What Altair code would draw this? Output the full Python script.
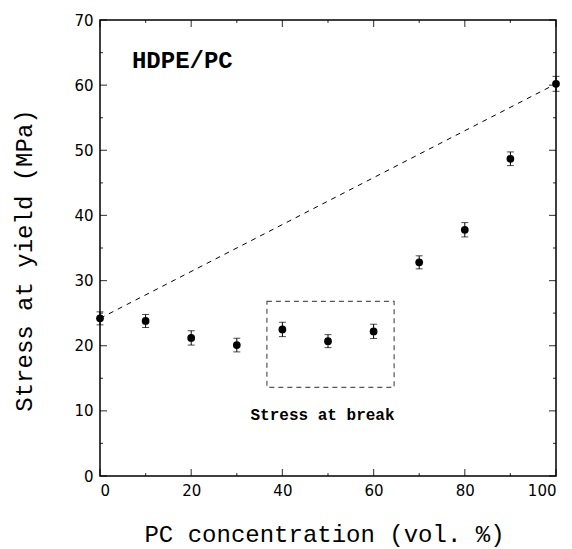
import altair as alt
import pandas as pd

# Data
pc_conc = [0, 10, 20, 30, 40, 50, 60, 70, 80, 90, 100]
stress_yield = [24.2, 23.8, 21.2, 20.1, 22.5, 20.7, 22.2, 32.8, 37.8, 48.7, 60.2]
stress_err = [1.0, 1.0, 1.1, 1.05, 1.1, 1.0, 1.1, 1.0, 1.1, 1.05, 1.15]

additivity_x = [0, 100]
additivity_y = [24.2, 60.2]

box_x = [36.6]
box_x2 = [64.5]
box_y = [13.6]
box_y2 = [26.8]

x_major = [0, 20, 40, 60, 80, 100]
x_minor = [10, 30, 50, 70, 90]
y_major = [0, 10, 20, 30, 40, 50, 60, 70]
y_minor = [5, 15, 25, 35, 45, 55, 65]

labels_text = ["HDPE/PC", "Stress at break"]

pts = pd.DataFrame({
    "x": pc_conc,
    "y": stress_yield,
    "lo": [v - e for v, e in zip(stress_yield, stress_err)],
    "hi": [v + e for v, e in zip(stress_yield, stress_err)],
})
line_df = pd.DataFrame({"x": additivity_x, "y": additivity_y})
box_df = pd.DataFrame({"x": box_x, "x2": box_x2, "y": box_y, "y2": box_y2})

xs = alt.Scale(domain=[0, 100], nice=False, zero=False)
ys = alt.Scale(domain=[0, 70], nice=False, zero=False)

x_axis = alt.Axis(values=x_major, title="PC concentration (vol. %)", grid=False,
                  ticks=False, domain=False, labelPadding=7, titlePadding=24,
                  labelFont="DejaVu Sans", labelFontSize=15, labelColor="black",
                  titleFont="Liberation Mono", titleFontSize=24, titleFontWeight="normal",
                  titleColor="black", titleX=224)
y_axis = alt.Axis(values=y_major, title="Stress at yield (MPa)", grid=False,
                  ticks=False, domain=False, labelPadding=7, titlePadding=37,
                  labelFont="DejaVu Sans", labelFontSize=15, labelColor="black",
                  titleFont="Liberation Mono", titleFontSize=24, titleFontWeight="normal",
                  titleColor="black", titleY=240)

X = lambda f: alt.X(f, scale=xs, title="PC concentration (vol. %)")
Y = lambda f: alt.Y(f, scale=ys, title="Stress at yield (MPa)")

base = alt.Chart(pts)

points = base.mark_circle(size=60, color="black", opacity=1).encode(
    x=alt.X("x:Q", scale=xs, axis=x_axis),
    y=alt.Y("y:Q", scale=ys, axis=y_axis),
)
bars = base.mark_rule(color="black", strokeWidth=1).encode(
    x=X("x:Q"), y=Y("lo:Q"), y2="hi:Q",
)
cap_lo = base.mark_tick(color="black", orient="horizontal", size=7, thickness=1).encode(
    x=X("x:Q"), y=Y("lo:Q"),
)
cap_hi = base.mark_tick(color="black", orient="horizontal", size=7, thickness=1).encode(
    x=X("x:Q"), y=Y("hi:Q"),
)

dashed = alt.Chart(line_df).mark_line(color="black", strokeWidth=1, strokeDash=[5, 5]).encode(
    x=X("x:Q"), y=Y("y:Q"),
)

box = alt.Chart(box_df).mark_rect(fill=None, fillOpacity=0, stroke="#555555",
                                  strokeWidth=1.2, strokeDash=[5, 4]).encode(
    x=X("x:Q"), x2="x2:Q", y=Y("y:Q"), y2="y2:Q",
)

txt1 = alt.Chart(pd.DataFrame({"x": [7.0], "y": [62.6], "t": [labels_text[0]]})).mark_text(
    font="Liberation Mono", fontSize=24, fontWeight="bold", align="left",
    baseline="alphabetic", color="black").encode(x=X("x:Q"), y=Y("y:Q"), text="t:N")
txt2 = alt.Chart(pd.DataFrame({"x": [48.8], "y": [8.6], "t": [labels_text[1]]})).mark_text(
    font="Liberation Mono", fontSize=16, fontWeight="bold", align="center",
    baseline="alphabetic", color="black").encode(x=X("x:Q"), y=Y("y:Q"), text="t:N")

# inward tick marks on all four sides
def xticks(vals, yv, size, off):
    df = pd.DataFrame({"x": vals, "y": [yv] * len(vals)})
    return alt.Chart(df).mark_tick(color="black", orient="vertical", size=size,
                                   thickness=1.2, yOffset=off).encode(x=X("x:Q"), y=Y("y:Q"))

def yticks(vals, xv, size, off):
    df = pd.DataFrame({"x": [xv] * len(vals), "y": vals})
    return alt.Chart(df).mark_tick(color="black", orient="horizontal", size=size,
                                   thickness=1.2, xOffset=off).encode(x=X("x:Q"), y=Y("y:Q"))

ticks = [
    xticks(x_major, 0, 7, -3.5), xticks(x_minor, 0, 3, -1.5),
    xticks(x_major, 70, 7, 3.5), xticks(x_minor, 70, 3, 1.5),
    yticks(y_major, 0, 7, 3.5), yticks(y_minor, 0, 3, 1.5),
    yticks(y_major, 100, 7, -3.5), yticks(y_minor, 100, 3, -1.5),
]

chart = alt.layer(points, dashed, box, bars, cap_lo, cap_hi, txt1, txt2, *ticks).properties(
    width=456, height=456,
    autosize=alt.AutoSizeParams(type="none"),
    padding={"left": 92, "top": 12, "right": 8, "bottom": 75},
    background="white",
).configure_view(stroke="black", strokeWidth=1.5)

chart.save("out.html", embed_options={"renderer": "svg", "actions": False})
